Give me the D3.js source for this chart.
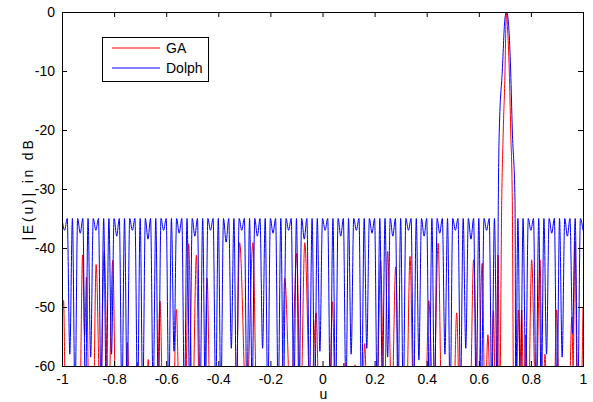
<!DOCTYPE html>
<html>
<head>
<meta charset="utf-8">
<script src="https://cdn.jsdelivr.net/npm/d3@7"></script>
<style>
  body { margin: 0; background: #fff; }
  text { font-family: "Liberation Sans", Arial, sans-serif; }
</style>
</head>
<body>
<script>
// tick labels
var xTicks = [-1, -0.8, -0.6, -0.4, -0.2, 0, 0.2, 0.4, 0.6, 0.8, 1];
var xTickLabels = ["-1", "-0.8", "-0.6", "-0.4", "-0.2", "0", "0.2", "0.4", "0.6", "0.8", "1"];
var yTicks = [-60, -50, -40, -30, -20, -10, 0];
var yTickLabels = ["-60", "-50", "-40", "-30", "-20", "-10", "0"];
var seriesNames = ["GA", "Dolph"];

// Dolph pattern, sampled every 0.01 in u from u = -1 up to 0.66
var dolphLeftDb = [
  -35,-37,-35,-58,-35,-66,-35,-37.5,-35,-66,-35,-58.5,-35,-37,-35,-66,-35,-65,-35,-58,
  -35,-38,-35,-66,-35,-64,-35,-37,-35,-66,-35,-66,-35,-38.5,-35,-65,-35,-66,-35,-37,
  -35,-66,-35,-57.5,-35,-37.5,-35,-66,-35,-64,-35,-38,-35,-66,-35,-66,-35,-37,-35,-65,
  -35,-66,-35,-39,-35,-57,-35,-66,-35,-37,-35,-66,-35,-64,-35,-38,-35,-57,-35,-66,
  -35,-37.5,-35,-66,-35,-65,-35,-37,-35,-66,-35,-66,-35,-38.5,-35,-64,-35,-66,-35,-57.5,
  -35,-37,-35,-66,-35,-66,-35,-38,-35,-65,-35,-58,-35,-37,-35,-66,-35,-57,-35,-37.5,
  -35,-66,-35,-64,-35,-58.5,-35,-38,-35,-66,-35,-66,-35,-37,-35,-65,-35,-59,-35,-38,
  -35,-66,-35,-66,-35,-37.5,-35,-58,-35,-66,-35,-37,-35,-64,-35,-57,-35,-38.5,-35,-66,
  -35,-65,-35,-37,-35,-66,-35
];
// Dolph main beam
var dolphMainU  = [0.671, 0.6749, 0.6787, 0.6902, 0.7006, 0.7063, 0.712, 0.7224, 0.7286, 0.739, 0.742];
var dolphMainDb = [-66, -32, -20, -10, -1, 0, -1, -10, -20, -32, -66];
// Dolph pattern, sampled every 0.01 from u = 0.75 to 1
var dolphRightDb = [
  -35,-66,-35,-62,-35,-37,-35,-66,-35,-66,-35,-58,-35,-37.5,-35,-66,-35,-58.5,-35,-38,
  -35,-54.5,-35,-66,-35,-37
];

// GA pattern vertices
var gaU = [
  -1.000,-0.994,-0.986,-0.932,-0.921,-0.913,-0.906,-0.896,-0.880,-0.869,-0.853,-0.838,-0.822,-0.805,-0.793,
  -0.759,-0.749,-0.739,-0.719,-0.711,-0.703,-0.677,-0.669,-0.661,-0.636,-0.624,-0.612,-0.573,-0.561,-0.549,
  -0.527,-0.514,-0.499,-0.484,-0.472,-0.455,-0.443,-0.431,-0.333,-0.318,-0.292,-0.267,-0.252,-0.158,-0.145,
  -0.122,-0.099,-0.084,-0.068,-0.046,-0.024,-0.013,0.026,0.038,0.050,0.074,0.082,0.090,0.117,0.125,
  0.133,0.152,0.162,0.172,0.208,0.223,0.237,0.250,0.266,0.281,0.295,0.322,0.336,0.350,0.395,
  0.408,0.426,0.444,0.458,0.503,0.515,0.527,0.566,0.580,0.597,0.613,0.624,0.635,0.646,0.656,
  0.665,0.674,0.680,0.688,0.694,0.7006,0.7035,0.7063,0.710,0.717,0.7224,0.7286,0.734,0.743,0.752,
  0.758,0.765,0.772,0.780,0.790,0.803,0.819,0.835,0.845,0.854,0.863,0.888,0.899,0.910,0.946,
  0.957,0.962,0.969,0.979,0.991,1.000
];
var gaDb = [
  -53,-48.9,-68,-68,-41.2,-55,-44.9,-68,-68,-42.8,-68,-40.6,-68,-42.1,-68,
  -68,-56,-68,-68,-59.4,-68,-68,-58.9,-68,-68,-49,-68,-68,-50.4,-68,
  -68,-39.3,-68,-41.2,-68,-68,-45.1,-68,-68,-39.1,-68,-39.1,-68,-68,-45.1,
  -68,-40.9,-68,-39.1,-68,-51,-68,-68,-49.1,-68,-68,-59.5,-68,-68,-59.8,
  -68,-68,-56.2,-68,-68,-42.1,-68,-40.6,-68,-43.2,-68,-68,-41.4,-68,-68,
  -48.9,-68,-39.2,-68,-68,-51,-68,-68,-42,-68,-42.6,-68,-54.7,-68,-50.6,
  -68,-41.2,-68,-32,-20,-10,-3,0,-2.5,-10,-20,-32,-68,-68,-50.5,
  -60,-50.5,-68,-54.7,-68,-42,-68,-42,-68,-58,-68,-68,-50.5,-68,-68,
  -51.7,-60,-38.9,-68,-68,-50
];

var W = 593, H = 402;
var m = {left: 62, right: 583, top: 12, bottom: 366};

var x = d3.scaleLinear().domain([-1, 1]).range([m.left, m.right]);
var y = d3.scaleLinear().domain([-60, 0]).range([m.bottom, m.top]);

var svg = d3.select("body").append("svg").attr("width", W).attr("height", H);

svg.append("clipPath").attr("id", "plotclip")
  .append("rect")
    .attr("x", m.left).attr("y", m.top)
    .attr("width", m.right - m.left).attr("height", m.bottom - m.top);

var dolph = dolphLeftDb.map(function(d, i) { return {u: -1 + i * 0.01, db: d}; })
  .concat(dolphMainU.map(function(u, i) { return {u: u, db: dolphMainDb[i]}; }))
  .concat(dolphRightDb.map(function(d, i) { return {u: 0.75 + i * 0.01, db: d}; }));
var ga = gaU.map(function(u, i) { return {u: u, db: gaDb[i]}; });

var line = d3.line()
  .x(function(d) { return x(d.u); })
  .y(function(d) { return y(d.db); })
  .curve(d3.curveMonotoneX);

var plot = svg.append("g").attr("clip-path", "url(#plotclip)");
plot.append("path").datum(ga)
  .attr("d", line).attr("fill", "none").attr("stroke", "#ff0000").attr("stroke-width", 1);
plot.append("path").datum(dolph)
  .attr("d", line).attr("fill", "none").attr("stroke", "#0000ff").attr("stroke-width", 1);

// axes, ticks pointing inward like matlab
function styleAxis(g) {
  g.select(".domain").remove();
  g.selectAll("line").attr("stroke", "#000");
  g.selectAll("text").attr("font-size", 14).attr("fill", "#000")
    .style("font-family", "'Liberation Sans', Arial, sans-serif");
}
svg.append("g").attr("transform", "translate(0," + m.bottom + ")")
  .call(d3.axisBottom(x).tickValues(xTicks).tickSizeInner(-5).tickSizeOuter(0).tickPadding(8)
    .tickFormat(function(d, i) { return xTickLabels[i]; }))
  .call(styleAxis);
svg.append("g").attr("transform", "translate(0," + m.top + ")")
  .call(d3.axisTop(x).tickValues(xTicks).tickSizeInner(-5).tickSizeOuter(0).tickFormat(""))
  .call(styleAxis);
svg.append("g").attr("transform", "translate(" + m.left + ",0)")
  .call(d3.axisLeft(y).tickValues(yTicks).tickSizeInner(-5).tickSizeOuter(0).tickPadding(7)
    .tickFormat(function(d, i) { return yTickLabels[i]; }))
  .call(styleAxis);
svg.append("g").attr("transform", "translate(" + m.right + ",0)")
  .call(d3.axisRight(y).tickValues(yTicks).tickSizeInner(-5).tickSizeOuter(0).tickFormat(""))
  .call(styleAxis);

svg.append("rect")
  .attr("x", m.left + 0.5).attr("y", m.top + 0.5)
  .attr("width", m.right - m.left).attr("height", m.bottom - m.top)
  .attr("fill", "none").attr("stroke", "#000").attr("stroke-width", 1);

// axis titles
svg.append("text")
  .attr("x", (m.left + m.right) / 2 + 1).attr("y", 399)
  .attr("text-anchor", "middle").attr("font-size", 14)
  .text("u");
svg.append("text")
  .attr("transform", "translate(33," + ((m.top + m.bottom) / 2) + ") rotate(-90)")
  .attr("text-anchor", "middle").attr("font-size", 14)
  .attr("letter-spacing", "2.8px")
  .text("|E(u)| in dB");

// legend
var lg = svg.append("g");
lg.append("rect").attr("x", 102.5).attr("y", 37.5).attr("width", 106).attr("height", 44)
  .attr("fill", "#fff").attr("stroke", "#000").attr("stroke-width", 1);
var legColors = ["#ff0000", "#0000ff"];
var legY = [48, 68];
seriesNames.forEach(function(name, i) {
  lg.append("line").attr("x1", 112).attr("x2", 160).attr("y1", legY[i]).attr("y2", legY[i])
    .style("stroke", legColors[i]).attr("stroke-width", 1.2);
  lg.append("text").attr("x", 166).attr("y", legY[i] + 5).attr("font-size", 14).text(name);
});
</script>
</body>
</html>
